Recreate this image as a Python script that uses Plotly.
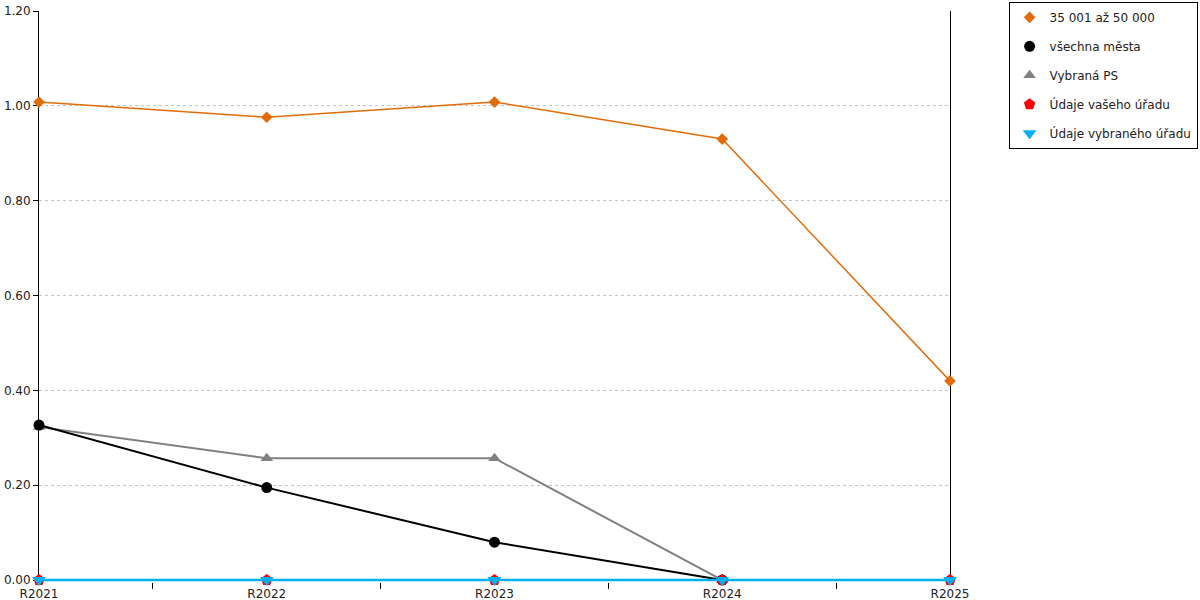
"""Line chart of ratios by year with marker-only legend."""

import plotly.graph_objects as go

years = ["R2021", "R2022", "R2023", "R2024", "R2025"]

obce_35_50 = [1.008, 0.976, 1.008, 0.930, 0.420]
vsechna_mesta = [0.327, 0.195, 0.080, 0.0, None]
vybrana_ps = [0.323, 0.257, 0.257, 0.0, None]
vas_urad = [0.0, 0.0, 0.0, 0.0, 0.0]
vybrany_urad = [0.0, 0.0, 0.0, 0.0, 0.0]

series = [
    # name, values, colour, symbol, marker size, line width, legend rank
    ("35 001 až 50 000", obce_35_50, "#E36C0A", "diamond", 9, 1.5, 1),
    ("Vybraná PS", vybrana_ps, "#808080", "triangle-up", 11, 2, 3),
    ("všechna města", vsechna_mesta, "#000000", "circle", 11, 2, 2),
    ("Údaje vašeho úřadu", vas_urad, "#FF0000", "pentagon", 12, 2, 4),
    ("Údaje vybraného úřadu", vybrany_urad, "#00B0F0", "triangle-down", 12, 2.5, 5),
]

fig = go.Figure()
for name, values, color, symbol, size, width, rank in series:
    fig.add_trace(
        go.Scatter(
            x=years,
            y=values,
            mode="lines",
            line=dict(color=color, width=width),
            showlegend=False,
            hoverinfo="skip",
            cliponaxis=False,
        )
    )
    fig.add_trace(
        go.Scatter(
            x=years,
            y=values,
            mode="markers",
            name=name,
            marker=dict(color=color, symbol=symbol, size=size),
            legendrank=rank,
            legendgroup=name,
            cliponaxis=False,
        )
    )

fig.update_layout(
    width=1200,
    height=600,
    margin=dict(l=39, r=250, t=11, b=18, autoexpand=False),
    plot_bgcolor="white",
    paper_bgcolor="white",
    font=dict(family="DejaVu Sans", size=12, color="#222222"),
    legend=dict(
        xref="container",
        yref="container",
        x=0.998,
        y=0.997,
        xanchor="right",
        yanchor="top",
        bordercolor="black",
        borderwidth=1,
        bgcolor="white",
        tracegroupgap=10,
        itemwidth=30,
        font=dict(size=12),
    ),
)
# the zero series runs along the bottom, so no separate x axis line
fig.update_xaxes(
    type="category",
    range=[0, 4],
    showline=False,
    layer="below traces",
    ticks="outside",
    tickson="boundaries",
    ticklen=6,
    tickcolor="black",
    ticklabelstandoff=3,
    showgrid=False,
    automargin=False,
    tickfont=dict(size=12),
)
# a hair below zero so the zero line is not clipped in half
fig.update_yaxes(
    range=[-0.004, 1.2],
    tickvals=[0, 0.2, 0.4, 0.6, 0.8, 1.0, 1.2],
    tickformat=".2f",
    showline=True,
    mirror=True,
    linecolor="black",
    layer="below traces",
    ticks="outside",
    ticklen=5,
    tickcolor="black",
    showgrid=True,
    gridcolor="#C4C4C4",
    griddash="dot",
    zeroline=False,
    automargin=False,
    ticklabeloverflow="allow",
    tickfont=dict(size=12),
)

# drop the default 8px body margin so the 1200x600 figure fills the window
fig.write_html(
    "out.html",
    config={"displayModeBar": False},
    post_script="document.body.style.margin = '0';",
)
